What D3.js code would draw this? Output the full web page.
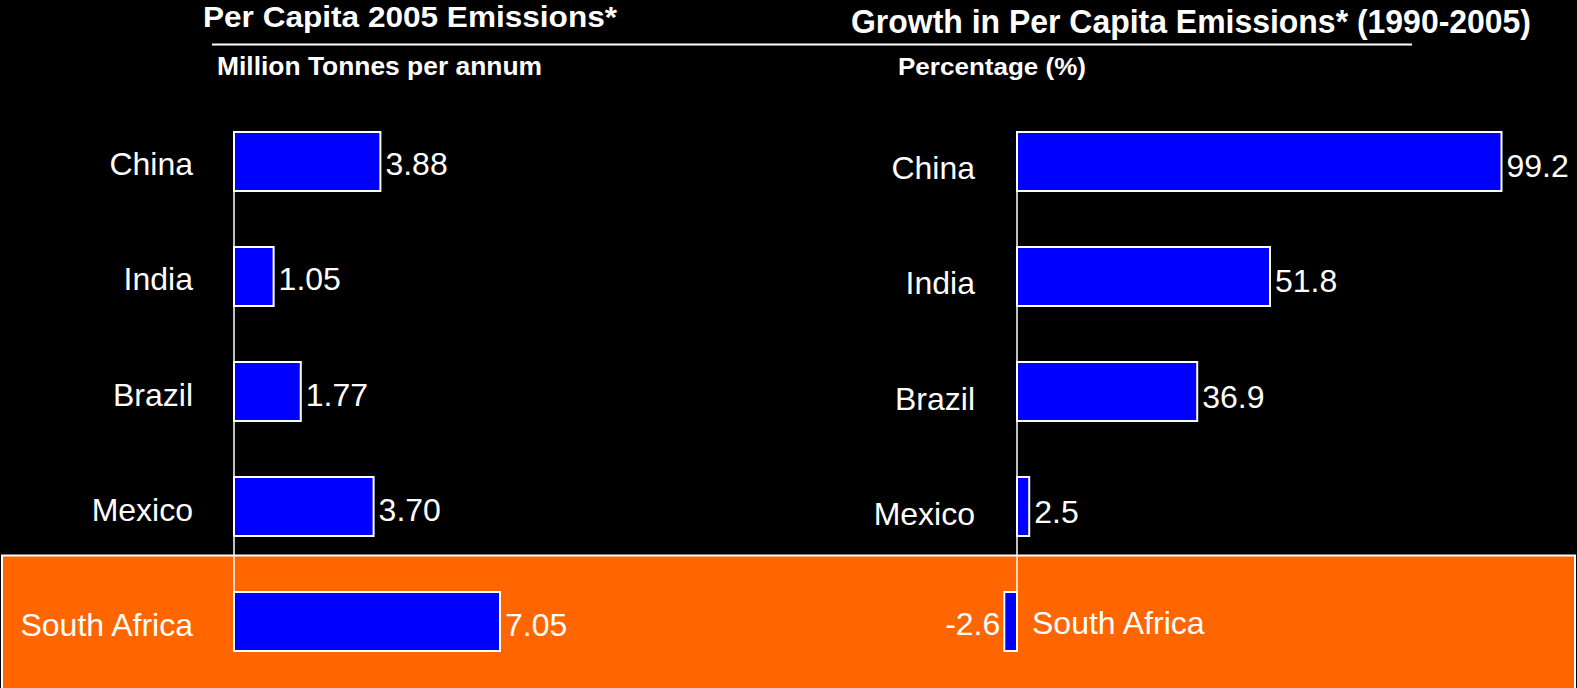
<!DOCTYPE html>
<html>
<head>
<meta charset="utf-8">
<script src="https://cdn.jsdelivr.net/npm/d3@7/dist/d3.min.js"></script>
<style>
  html, body { margin: 0; padding: 0; background: #000; }
  svg { display: block; }
  text { font-family: "Liberation Sans", Arial, sans-serif; fill: #fff; }
</style>
</head>
<body>
<svg id="chart" width="1577" height="688"></svg>
<script>
  const countries = ["China", "India", "Brazil", "Mexico", "South Africa"];
  const perCapita = [3.88, 1.05, 1.77, 3.70, 7.05];
  const perCapitaLabels = ["3.88", "1.05", "1.77", "3.70", "7.05"];
  const growth = [99.2, 51.8, 36.9, 2.5, -2.6];
  const growthLabels = ["99.2", "51.8", "36.9", "2.5", "-2.6"];
  const highlight = "South Africa";

  const svg = d3.select("#chart");
  const width = +svg.attr("width");
  const height = +svg.attr("height");

  const y = d3.scaleBand()
    .domain(countries)
    .range([132, 651])
    .paddingInner(0.487)
    .paddingOuter(0);

  const xLeft = d3.scaleLinear().domain([0, 7.05]).range([234, 500]);
  const xRight = d3.scaleLinear().domain([0, 99.2]).range([1017, 1501.5]);

  svg.append("rect").attr("width", width).attr("height", height).attr("fill", "#000");

  // highlight band for South Africa
  const hb = y(highlight) + y.bandwidth() / 2;
  svg.append("rect")
    .attr("x", 2).attr("y", hb - 66)
    .attr("width", 1573).attr("height", 140)
    .attr("fill", "#ff6600")
    .attr("stroke", "#fff").attr("stroke-width", 2);

  // titles
  svg.append("text")
    .attr("x", 203).attr("y", 27)
    .attr("textLength", 414).attr("lengthAdjust", "spacingAndGlyphs")
    .style("font-size", "30px").style("font-weight", "bold")
    .text("Per Capita 2005 Emissions*");

  svg.append("text")
    .attr("x", 851).attr("y", 33)
    .attr("textLength", 680).attr("lengthAdjust", "spacingAndGlyphs")
    .style("font-family", "'Liberation Sans Narrow', 'Arial Narrow', sans-serif")
    .style("font-size", "34px").style("font-weight", "bold")
    .text("Growth in Per Capita Emissions* (1990-2005)");

  svg.append("line")
    .attr("x1", 212).attr("x2", 1412).attr("y1", 44.5).attr("y2", 44.5)
    .attr("stroke", "#fff").attr("stroke-width", 2);

  svg.append("text")
    .attr("x", 217).attr("y", 75)
    .attr("textLength", 325).attr("lengthAdjust", "spacingAndGlyphs")
    .style("font-size", "25px").style("font-weight", "bold")
    .text("Million Tonnes per annum");

  svg.append("text")
    .attr("x", 898).attr("y", 75)
    .attr("textLength", 188).attr("lengthAdjust", "spacingAndGlyphs")
    .style("font-family", "'Liberation Sans Narrow', 'Arial Narrow', sans-serif")
    .style("font-size", "24px").style("font-weight", "bold")
    .text("Percentage (%)");

  // left panel
  const left = svg.append("g");
  left.append("line")
    .attr("x1", xLeft(0)).attr("x2", xLeft(0))
    .attr("y1", y(countries[0])).attr("y2", y(highlight) + y.bandwidth())
    .attr("stroke", "#fff").attr("stroke-width", 1.5);

  left.selectAll("rect.bar")
    .data(countries)
    .join("rect")
    .attr("class", "bar")
    .attr("x", xLeft(0))
    .attr("y", d => y(d))
    .attr("width", (d, i) => xLeft(perCapita[i]) - xLeft(0))
    .attr("height", y.bandwidth())
    .attr("fill", "#0000ff")
    .attr("stroke", "#fff").attr("stroke-width", 2);

  left.selectAll("text.cat")
    .data(countries)
    .join("text")
    .attr("class", "cat")
    .attr("x", 193)
    .attr("y", d => y(d) + y.bandwidth() / 2 + 14)
    .attr("text-anchor", "end")
    .style("font-size", "32px")
    .text(d => d);

  left.selectAll("text.val")
    .data(countries)
    .join("text")
    .attr("class", "val")
    .attr("x", (d, i) => xLeft(perCapita[i]) + 5)
    .attr("y", d => y(d) + y.bandwidth() / 2 + 14)
    .style("font-size", "32px")
    .text((d, i) => perCapitaLabels[i]);

  // right panel
  const right = svg.append("g");
  right.append("line")
    .attr("x1", xRight(0)).attr("x2", xRight(0))
    .attr("y1", y(countries[0])).attr("y2", y(highlight) + y.bandwidth())
    .attr("stroke", "#fff").attr("stroke-width", 1.5);

  right.selectAll("rect.bar")
    .data(countries)
    .join("rect")
    .attr("class", "bar")
    .attr("x", (d, i) => xRight(Math.min(0, growth[i])))
    .attr("y", d => y(d))
    .attr("width", (d, i) => Math.abs(xRight(growth[i]) - xRight(0)))
    .attr("height", y.bandwidth())
    .attr("fill", "#0000ff")
    .attr("stroke", "#fff").attr("stroke-width", 2);

  right.selectAll("text.cat")
    .data(countries)
    .join("text")
    .attr("class", "cat")
    .attr("x", (d, i) => growth[i] < 0 ? xRight(0) + 15 : 975)
    .attr("y", (d, i) => y(d) + y.bandwidth() / 2 + (growth[i] < 0 ? 12 : 18))
    .attr("text-anchor", (d, i) => growth[i] < 0 ? "start" : "end")
    .style("font-size", "32px")
    .text(d => d);

  right.selectAll("text.val")
    .data(countries)
    .join("text")
    .attr("class", "val")
    .attr("x", (d, i) => growth[i] < 0 ? xRight(growth[i]) - 4 : xRight(growth[i]) + 5)
    .attr("y", (d, i) => y(d) + y.bandwidth() / 2 + (growth[i] < 0 ? 13 : 16))
    .attr("text-anchor", (d, i) => growth[i] < 0 ? "end" : "start")
    .style("font-size", "32px")
    .text((d, i) => growthLabels[i]);
</script>
</body>
</html>
